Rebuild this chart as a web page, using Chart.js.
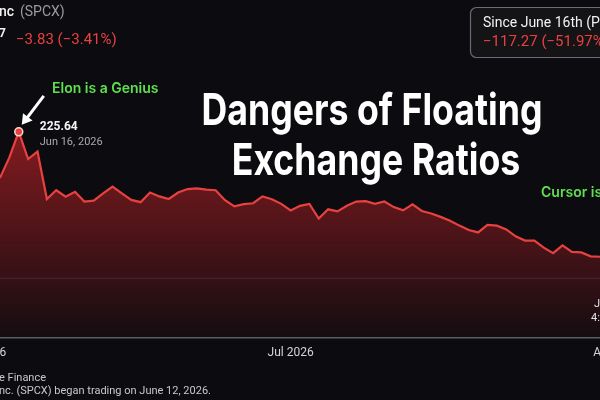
<!DOCTYPE html>
<html lang="en">
<head>
<meta charset="UTF-8" />
<meta name="viewport" content="width=device-width, initial-scale=1.0" />
<title>Dangers of Floating Exchange Ratios</title>
<script src="https://cdn.jsdelivr.net/npm/chart.js"></script>
<style>
  html, body { margin: 0; padding: 0; background: #0c0c10; }
  body { width: 600px; height: 400px; overflow: hidden; position: relative; }
  /* canvas is wider than the window so the chart runs off both edges */
  #chart { position: absolute; left: -60px; top: 0; }
</style>
</head>
<body>
<canvas id="chart" width="720" height="400"></canvas>
<script>
// closing prices, one per trading day (two empty slots each side for the month ticks)
const prices = [null, null,
  182.4, 201.6, 225.64, 200.1, 207.1, 162.6, 170.8, 164.8, 169.3, 160.2,
  161.1, 167.8, 174.2, 167.8, 161.7, 159.6, 168.7, 165.0, 162.6, 168.7,
  171.9, 172.6, 171.4, 170.8, 161.4, 155.6, 157.7, 158.6, 165.0, 162.3,
  158.0, 151.9, 156.2, 158.0, 144.3, 152.9, 151.0, 156.2, 160.2, 160.5,
  158.0, 160.2, 155.0, 151.9, 157.5, 151.3, 149.0, 145.8, 142.2, 137.6,
  133.5, 131.2, 138.2, 137.6, 134.0, 127.6, 123.6, 123.6, 116.9, 111.8,
  119.1, 112.9, 112.5, 108.8, 108.37,
  null, null];
const days = prices.map((p, i) => i);
const monthTicks = ['Jun 2026', 'Jul 2026', 'Aug 2026'];
const monthTickAt = [0, 33, 68];
const peakIndex = 4;
const peakLabel = ['225.64', 'Jun 16, 2026'];
const refLevel = 88;
const titleLines = ['Dangers of Floating', 'Exchange Ratios'];

const OX = 60; // page x -> canvas x

const overlay = {
  id: 'overlay',
  beforeDatasetsDraw(chart) {
    const { ctx, scales } = chart;
    const y = scales.y.getPixelForValue(refLevel);
    ctx.save();
    ctx.strokeStyle = 'rgba(255,255,255,0.10)';
    ctx.lineWidth = 1.2;
    ctx.beginPath();
    ctx.moveTo(0, y);
    ctx.lineTo(chart.width, y);
    ctx.stroke();
    ctx.restore();
  },
  afterDraw(chart) {
    const { ctx } = chart;
    const pt = chart.getDatasetMeta(0).data[peakIndex];
    ctx.save();
    ctx.textBaseline = 'middle';
    ctx.textAlign = 'left';

    // header, top left
    ctx.font = '500 14px Roboto';
    ctx.fillStyle = '#f2f2f2';
    ctx.fillText('nc', -1 + OX, 12);
    ctx.fillStyle = '#9a9aa0';
    ctx.font = '400 14px Roboto';
    ctx.fillText('(SPCX)', 20 + OX, 12);
    ctx.fillStyle = '#f2f2f2';
    ctx.font = '700 12px Roboto';
    ctx.fillText('7', -1 + OX, 34);
    ctx.fillStyle = '#e8413f';
    ctx.font = '400 15px Roboto';
    ctx.fillText('\u22123.83 (\u22123.41%)', 16 + OX, 40);

    // box, top right
    ctx.fillStyle = '#141417';
    ctx.strokeStyle = '#6c6c70';
    ctx.lineWidth = 1.2;
    ctx.beginPath();
    ctx.roundRect(470.5 + OX, 7.5, 200, 50, 6);
    ctx.fill();
    ctx.stroke();
    ctx.fillStyle = '#f2f2f2';
    ctx.font = '400 14px Roboto';
    ctx.fillText('Since June 16th (Peak)', 483 + OX, 23);
    ctx.fillStyle = '#e8413f';
    ctx.font = '400 15px Roboto';
    ctx.fillText('\u2212117.27 (\u221251.97%)', 483 + OX, 42);

    // title
    ctx.fillStyle = '#ffffff';
    ctx.font = '700 44px Inter';
    const sx = 341 / ctx.measureText(titleLines[0]).width;
    ctx.textAlign = 'center';
    ctx.textBaseline = 'alphabetic';
    [[372, 125], [376, 175]].forEach((p, i) => {
      ctx.save();
      ctx.translate(p[0] + OX, p[1]);
      ctx.scale(sx, 1);
      ctx.fillText(titleLines[i], 0, 0);
      ctx.restore();
    });

    // green callouts
    ctx.textAlign = 'left';
    ctx.textBaseline = 'middle';
    ctx.fillStyle = '#5fe04e';
    ctx.font = '600 14px Inter';
    ctx.fillText('Elon is a Genius', 52 + OX, 89);
    ctx.fillText('Cursor is', 541 + OX, 193);

    // arrow to the peak
    const tx = pt.x + 25, ty = pt.y - 36, hx = pt.x + 3, hy = pt.y - 7;
    const ang = Math.atan2(hy - ty, hx - tx);
    ctx.strokeStyle = '#ffffff';
    ctx.fillStyle = '#ffffff';
    ctx.lineWidth = 3;
    ctx.beginPath();
    ctx.moveTo(tx, ty);
    ctx.lineTo(hx - 6 * Math.cos(ang), hy - 6 * Math.sin(ang));
    ctx.stroke();
    ctx.beginPath();
    ctx.moveTo(hx, hy);
    ctx.lineTo(hx - 10 * Math.cos(ang) + 6 * Math.sin(ang), hy - 10 * Math.sin(ang) - 6 * Math.cos(ang));
    ctx.lineTo(hx - 10 * Math.cos(ang) - 6 * Math.sin(ang), hy - 10 * Math.sin(ang) + 6 * Math.cos(ang));
    ctx.closePath();
    ctx.fill();

    // peak label
    ctx.fillStyle = '#f4f4f4';
    ctx.font = '700 12px Roboto';
    ctx.fillText(peakLabel[0], pt.x + 21, pt.y - 5);
    ctx.fillStyle = '#a8a8ae';
    ctx.font = '400 11px Roboto';
    ctx.fillText(peakLabel[1], pt.x + 21, pt.y + 10);

    // last point hover label
    ctx.fillStyle = '#e6e6e6';
    ctx.font = '400 11px Roboto';
    ctx.fillText('Jul 31', 594 + OX, 304);
    ctx.fillText('4:00 PM', 591 + OX, 318);

    // footer
    ctx.fillStyle = '#c8c8cc';
    ctx.font = '400 11px Roboto';
    ctx.fillText('e Finance', -1 + OX, 378);
    ctx.fillText('nc. (SPCX) began trading on June 12, 2026.', -1 + OX, 391);
    ctx.restore();
  }
};

const ctx = document.getElementById('chart');
const myChart = new Chart(ctx, {
  type: 'line',
  data: {
    labels: days,
    datasets: [{
      data: prices,
      borderColor: '#e8413f',
      borderWidth: 2.2,
      tension: 0,
      fill: 'start',
      backgroundColor(c) {
        const a = c.chart.chartArea;
        if (!a) return 'rgba(0,0,0,0)';
        const g = c.chart.ctx.createLinearGradient(0, a.top + 30, 0, a.bottom);
        g.addColorStop(0, 'rgba(190,35,40,0.68)');
        g.addColorStop(1, 'rgba(190,35,40,0.05)');
        return g;
      },
      pointRadius: (c) => c.dataIndex === peakIndex ? 4 : 0,
      pointBackgroundColor: '#e8413f',
      pointBorderColor: '#ffd6d6',
      pointBorderWidth: 1.5
    }]
  },
  options: {
    responsive: false,
    animation: false,
    events: [],
    layout: { padding: { left: 41.25, right: 41.25, top: 100, bottom: 32 } },
    plugins: { legend: { display: false }, tooltip: { enabled: false } },
    scales: {
      x: {
        grid: { display: false, drawTicks: false },
        border: { display: true, color: '#5c5c62', width: 1.5 },
        ticks: {
          autoSkip: false,
          maxRotation: 0,
          padding: 8,
          color: '#d4d4d8',
          font: { family: 'Roboto', size: 12 },
          callback: (v, i) => {
            const j = monthTickAt.indexOf(i);
            return j >= 0 ? monthTicks[j] : null;
          }
        }
      },
      y: { display: false, min: 32.5, max: 255.5 }
    }
  },
  plugins: [overlay]
});
</script>
</body>
</html>
